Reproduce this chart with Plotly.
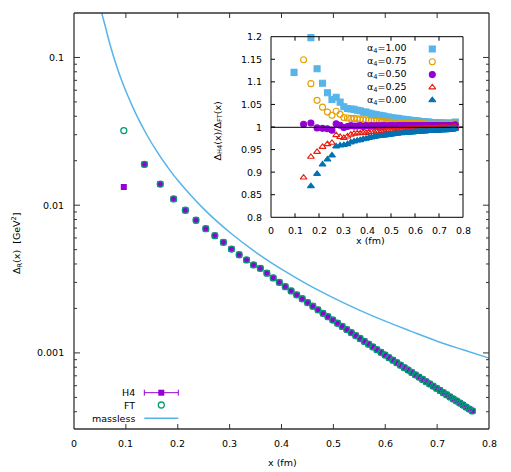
import math
import plotly.graph_objects as go

# lattice separations (fm)
x_fm = [0.096, 0.1358, 0.1663, 0.192, 0.2147, 0.2352, 0.254, 0.2715, 0.288, 0.3036,
        0.3184, 0.3326, 0.3461, 0.3592, 0.3718, 0.384, 0.3958, 0.4073, 0.4185, 0.4293,
        0.4399, 0.4503, 0.4604, 0.4703, 0.48, 0.4895, 0.4988, 0.508, 0.517, 0.5258,
        0.5345, 0.5431, 0.5515, 0.5598, 0.5679, 0.576, 0.5839, 0.5918, 0.5995, 0.6072,
        0.6147, 0.6222, 0.6295, 0.6368, 0.644, 0.6511, 0.6581, 0.6651, 0.672, 0.6788,
        0.6856, 0.6923, 0.6989, 0.7055, 0.712, 0.7184, 0.7248, 0.7311, 0.7374, 0.7436,
        0.7498, 0.7559, 0.762, 0.768]

h4 = [0.01328, 0.01892, 0.0139, 0.01102, 0.00924, 0.00791, 0.00693, 0.00622, 0.00561, 0.00505,
      0.00462, 0.00426, 0.00394, 0.003737, 0.003464, 0.003221, 0.003003, 0.002808, 0.00263, 0.002472,
      0.002326, 0.002192, 0.00207, 0.001958, 0.001854, 0.001758, 0.00167, 0.001588, 0.001511, 0.00144,
      0.001373, 0.00131, 0.001252, 0.001197, 0.001146, 0.001098, 0.001052, 0.001009, 0.000968, 0.000929,
      0.000893, 0.000859, 0.000826, 0.000795, 0.000766, 0.000738, 0.000711, 0.000686, 0.000662, 0.000639,
      0.000617, 0.000596, 0.000576, 0.000557, 0.000538, 0.000521, 0.000504, 0.000488, 0.000473, 0.000458,
      0.000444, 0.00043, 0.000417, 0.000405]

# FT differs visibly only at the first point
ft = [0.032] + h4[1:]

# massless curve (starts where it enters the top of the frame)
x_massless = [0.0534, 0.06, 0.07, 0.08, 0.09, 0.10, 0.12, 0.14, 0.16, 0.18, 0.20, 0.25,
              0.30, 0.35, 0.40, 0.45, 0.50, 0.55, 0.60, 0.65, 0.70, 0.75, 0.80]
y_massless = [0.200, 0.1639, 0.1204, 0.0922, 0.0728, 0.0590, 0.0410, 0.0301, 0.02305, 0.01821,
              0.01475, 0.00944, 0.00656, 0.00482, 0.00369, 0.00291, 0.00236, 0.00195, 0.00164,
              0.00140, 0.00120, 0.00105, 0.000922]

# inset: ratio H4/FT for several alpha_4
r100 = [1.121, None, 1.198, 1.129, 1.097, 1.076, 1.061, 1.066, 1.055, 1.045,
        1.041, 1.040, 1.039, 1.037, 1.036, 1.033, 1.033, 1.031, 1.029, 1.028,
        1.027, 1.026, 1.025, 1.024, 1.022, 1.022, 1.021, 1.020, 1.019, 1.019,
        1.018, 1.017, 1.017, 1.016, 1.016, 1.015, 1.015, 1.014, 1.014, 1.013,
        1.013, 1.012, 1.012, 1.012, 1.011, 1.011, 1.011, 1.010, 1.010, 1.010,
        1.010, 1.009, 1.009, 1.009, 1.009, 1.009, 1.008, 1.008, 1.008, 1.008,
        1.008, 1.008, 1.009, 1.011]
r075 = [None, 1.149, 1.096, 1.059, 1.044, 1.033, 1.026, 1.035, 1.028, 1.021,
        1.020, 1.019, 1.019, 1.018, 1.017, 1.016, 1.016, 1.015, 1.014, 1.014,
        1.013, 1.013, 1.012, 1.012, 1.011, 1.011, 1.011, 1.010, 1.010, 1.010,
        1.009, 1.009, 1.009, 1.009, 1.008, 1.008, 1.008, 1.008, 1.008, 1.007,
        1.007, 1.007, 1.007, 1.007, 1.007, 1.006, 1.006, 1.006, 1.006, 1.006,
        1.006, 1.006, 1.006, 1.006, 1.006, 1.006, 1.006, 1.006, 1.006, 1.006,
        1.006, 1.006, 1.006, 1.007]
r050 = [None, 1.006, 1.009, 0.998, 0.997, 0.996, 0.993, 1.007, 1.004, 0.999,
        1.001, 1.003, 1.002, 1.002, 1.003, 1.001, 1.003, 1.002, 1.003, 1.002,
        1.003, 1.002, 1.003, 1.003, 1.002, 1.003, 1.003, 1.003, 1.002, 1.003,
        1.003, 1.003, 1.003, 1.003, 1.003, 1.003, 1.003, 1.003, 1.003, 1.003,
        1.003, 1.003, 1.003, 1.003, 1.003, 1.003, 1.003, 1.003, 1.003, 1.003,
        1.003, 1.003, 1.003, 1.003, 1.003, 1.003, 1.003, 1.003, 1.003, 1.003,
        1.003, 1.003, 1.004, 1.005]
r025 = [None, 0.888, 0.934, 0.945, 0.956, 0.962, 0.965, 0.982, 0.978, 0.976,
        0.979, 0.983, 0.985, 0.986, 0.986, 0.987, 0.987, 0.988, 0.989, 0.989,
        0.990, 0.990, 0.991, 0.991, 0.992, 0.992, 0.992, 0.993, 0.993, 0.993,
        0.994, 0.994, 0.994, 0.994, 0.995, 0.995, 0.995, 0.995, 0.996, 0.996,
        0.996, 0.996, 0.996, 0.996, 0.997, 0.997, 0.997, 0.997, 0.997, 0.997,
        0.997, 0.997, 0.998, 0.998, 0.998, 0.998, 0.998, 0.998, 0.998, 0.998,
        0.998, 0.998, 0.999, 0.999]
r000 = [None, None, 0.869, 0.896, 0.917, 0.928, 0.937, 0.957, 0.959, 0.960,
        0.962, 0.966, 0.968, 0.970, 0.971, 0.973, 0.974, 0.976, 0.977, 0.978,
        0.979, 0.980, 0.981, 0.981, 0.982, 0.983, 0.983, 0.984, 0.985, 0.985,
        0.986, 0.986, 0.987, 0.987, 0.987, 0.988, 0.988, 0.988, 0.989, 0.989,
        0.989, 0.990, 0.990, 0.990, 0.990, 0.991, 0.991, 0.991, 0.991, 0.992,
        0.992, 0.992, 0.992, 0.993, 0.993, 0.993, 0.993, 0.993, 0.994, 0.994,
        0.994, 0.994, 0.995, 0.996]

alpha_labels = ["1.00", "0.75", "0.50", "0.25", "0.00"]
ratios = [r100, r075, r050, r025, r000]
styles = [("square", "#56B4E9"), ("circle-open", "#E69F00"), ("circle", "#9400D3"),
          ("triangle-up-open", "#E51E10"), ("triangle-up", "#0072B2")]

x_ticks = [0, 0.1, 0.2, 0.3, 0.4, 0.5, 0.6, 0.7, 0.8]
x_ticktext = ["0", "0.1", "0.2", "0.3", "0.4", "0.5", "0.6", "0.7", "0.8"]
y_ticks = [0.001, 0.01, 0.1]
y_ticktext = ["0.001", "0.01", "0.1"]
r_ticks = [0.8, 0.85, 0.9, 0.95, 1.0, 1.05, 1.1, 1.15, 1.2]
r_ticktext = ["0.8", "0.85", "0.9", "0.95", "1", "1.05", "1.1", "1.15", "1.2"]

FONT = "DejaVu Sans"
OFF = 8                          # page body margin
W, H = 511 - OFF, 472 - OFF
L, R, T, B = 74, 489, 13, 429    # main frame, page pixels
MP = 5                           # main plot area reaches past the frame
PL, PR, PT, PB = L - MP, R + MP, T - MP, B + MP
YLOG = (-3.515, -0.699)
IX0, IX1, IY0, IY1 = 271, 463, 217.3, 36.7   # inset frame, page pixels
IP = 10

sx = 0.8 / (R - L)
sy = (YLOG[1] - YLOG[0]) / (B - T)
isx = 0.8 / (IX1 - IX0)
isy = 0.4 / (IY0 - IY1)


def px(p):   # page pixel -> paper x
    return (p - PL) / (PR - PL)


def py(p):   # page pixel -> paper y
    return (PB - p) / (PB - PT)


def main_xy(x, y):   # page pixel -> main data coords
    return (x - L) * sx, 10 ** (YLOG[1] - (y - T) * sy)


def inset_xy(x, y):  # page pixel -> inset data coords
    return (x - IX0) * isx, 1.2 - (y - IY1) * isy


def seg(x0, y0, x1, y1, color="#333333", width=1.0):
    return dict(type="line", xref="paper", yref="paper", x0=px(x0), y0=py(y0),
                x1=px(x1), y1=py(y1), line=dict(color=color, width=width), layer="above")


fig = go.Figure()

fig.add_trace(go.Scatter(x=x_massless, y=y_massless, mode="lines", line_shape="spline",
                         line=dict(color="#56B4E9", width=1.5), showlegend=False))
fig.add_trace(go.Scatter(x=x_fm, y=h4, mode="markers",
                         marker=dict(symbol="square", size=6, color="#9400D3"), showlegend=False))
fig.add_trace(go.Scatter(x=x_fm, y=ft, mode="markers",
                         marker=dict(symbol="circle-open", size=6, color="#009E73",
                                     line=dict(width=1.3, color="#009E73")), showlegend=False))

kx, ky = main_xy(161.3, 392.7)
fig.add_trace(go.Scatter(x=[kx], y=[ky], mode="markers",
                         marker=dict(symbol="square", size=6, color="#9400D3"), showlegend=False))
kx, ky = main_xy(161.3, 405)
fig.add_trace(go.Scatter(x=[kx], y=[ky], mode="markers",
                         marker=dict(symbol="circle-open", size=6, color="#009E73",
                                     line=dict(width=1.3, color="#009E73")), showlegend=False))

for lab, r, (sym, col) in zip(alpha_labels, ratios, styles):
    fig.add_trace(go.Scatter(x=x_fm, y=r, mode="markers", xaxis="x2", yaxis="y2",
                             cliponaxis=False,
                             marker=dict(symbol=sym, size=6, color=col,
                                         line=dict(width=1.1, color=col)),
                             showlegend=False))

inset_rows = [49, 61.8, 74.6, 87.4, 100.2]
for yy, (sym, col) in zip(inset_rows, styles):
    kx, ky = inset_xy(432.3, yy)
    fig.add_trace(go.Scatter(x=[kx], y=[ky], mode="markers", xaxis="x2", yaxis="y2",
                             cliponaxis=False,
                             marker=dict(symbol=sym, size=6, color=col,
                                         line=dict(width=1.1, color=col)),
                             showlegend=False))

shapes = [
    seg(IX0, 127.3, IX1, 127.3, "black"),
    seg(144.3, 392.7, 178.3, 392.7, "#9400D3"),
    seg(144.3, 389.7, 144.3, 395.7, "#9400D3"),
    seg(178.3, 389.7, 178.3, 395.7, "#9400D3"),
    seg(144.3, 418.3, 178.3, 418.3, "#56B4E9", 1.5),
    # main frame
    seg(L, T, R, T, width=1.3), seg(L, B, R, B, width=1.3),
    seg(L, T, L, B, width=1.3), seg(R, T, R, B, width=1.3),
    # inset frame
    seg(IX0, IY1, IX1, IY1, "black"), seg(IX0, IY0, IX1, IY0, "black"),
    seg(IX0, IY1, IX0, IY0, "black"), seg(IX1, IY1, IX1, IY0, "black"),
]
for v in x_ticks[1:-1]:
    p = L + v / sx
    shapes += [seg(p, B, p, B - 5), seg(p, T, p, T + 5)]
for e in (-4, -3, -2, -1):
    for k in range(1, 10):
        v = k * 10.0 ** e
        if 3.1e-4 < v < 0.199:
            p = T + (YLOG[1] - math.log10(v)) / sy
            ln = 6 if k == 1 else 3
            shapes += [seg(L, p, L + ln, p), seg(R, p, R - ln, p)]
for v in x_ticks[1:-1]:
    p = IX0 + v / isx
    shapes += [seg(p, IY0, p, IY0 - 4, "black"), seg(p, IY1, p, IY1 + 4, "black")]
for v in r_ticks[1:-1]:
    p = IY1 + (1.2 - v) / isy
    shapes += [seg(IX0, p, IX0 + 4, p, "black"), seg(IX1, p, IX1 - 4, p, "black")]

tf = dict(family=FONT, size=9.5, color="black")
ann = []


def label(txt, x, y, xa="center", ya="middle", angle=0):
    ann.append(dict(text=txt, x=px(x), y=py(y), xref="paper", yref="paper", xanchor=xa,
                    yanchor=ya, textangle=angle, showarrow=False, font=tf))


# tick labels
for v, t in zip(x_ticks, x_ticktext):
    label(t, L + v / sx, 443)
    label(t, IX0 + v / isx, 230.5)
for v, t in zip(y_ticks, y_ticktext):
    label(t, 66, T + (YLOG[1] - math.log10(v)) / sy, xa="right")
for v, t in zip(r_ticks, r_ticktext):
    label(t, 264, IY1 + (1.2 - v) / isy, xa="right")

for txt, yy in zip(["H4", "FT", "massless"], [392.7, 405, 418.3]):
    label(txt, 136.7, yy, xa="right")
for lab, yy in zip(alpha_labels, inset_rows):
    label("α<sub>4</sub>=" + lab, 408.5, yy, xa="right")
label("x (fm)", 282, 462)
label("Δ<sub>R</sub>(x)  [GeV<sup>2</sup>]", 17, 243, angle=-90)
label("x (fm)", 370, 240)
label("Δ<sub>H4</sub>(x)/Δ<sub>FT</sub>(x)", 218, 131.5, angle=-90)

hidden = dict(visible=False, showgrid=False, zeroline=False)

fig.update_layout(
    width=W, height=H, autosize=False,
    margin=dict(l=PL - OFF, r=W + OFF - PR, t=PT - OFF, b=H + OFF - PB, pad=0,
                autoexpand=False),
    paper_bgcolor="white", plot_bgcolor="white",
    font=dict(family=FONT, size=9.5, color="black"),
    xaxis=dict(domain=[0, 1], range=[-MP * sx, 0.8 + MP * sx], **hidden),
    yaxis=dict(domain=[0, 1], type="log", range=[YLOG[0] - MP * sy, YLOG[1] + MP * sy],
               **hidden),
    xaxis2=dict(domain=[px(IX0 - IP), px(IX1 + IP)], anchor="y2",
                range=[-IP * isx, 0.8 + IP * isx], **hidden),
    yaxis2=dict(domain=[py(IY0 + IP), py(IY1 - IP)], anchor="x2",
                range=[0.8 - IP * isy, 1.2 + IP * isy], **hidden),
    shapes=shapes,
    annotations=ann,
    showlegend=False,
)

fig.write_html("out.html")
